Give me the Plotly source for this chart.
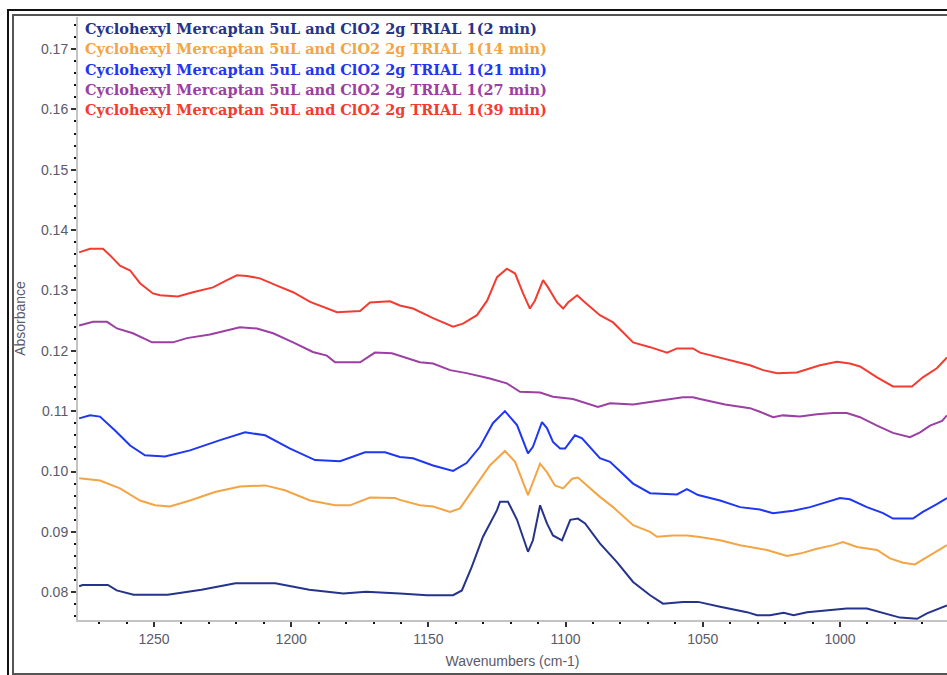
import plotly.graph_objects as go

# ---------------- data ----------------
wn_2min = [1277.3, 1276.0, 1266.8, 1263.6, 1257.4, 1245.0, 1232.7, 1220.3, 1205.8, 1193.4,
           1181.0, 1172.7, 1160.4, 1150.5, 1141.0, 1137.8, 1134.2, 1130.1, 1125.0, 1123.9,
           1121.0, 1117.7, 1113.7, 1111.9, 1109.3, 1106.8, 1104.6, 1101.3, 1098.3, 1095.5,
           1092.9, 1087.5, 1081.3, 1075.4, 1069.2, 1064.5, 1057.2, 1051.7, 1043.7, 1033.9,
           1030.2, 1025.5, 1020.5, 1016.9, 1012.0, 1003.6, 997.5, 990.2, 985.4, 978.1,
           971.9, 968.3, 961.0]
abs_2min = [0.0810, 0.0812, 0.0812, 0.0803, 0.0796, 0.0796, 0.0804, 0.0815, 0.0815, 0.0804,
            0.0798, 0.0801, 0.0798, 0.0795, 0.0795, 0.0803, 0.0842, 0.0892, 0.0936, 0.0950,
            0.0950, 0.0920, 0.0867, 0.0886, 0.0944, 0.0914, 0.0894, 0.0886, 0.0920, 0.0922,
            0.0914, 0.0881, 0.0850, 0.0817, 0.0795, 0.0781, 0.0784, 0.0784, 0.0776, 0.0767,
            0.0762, 0.0762, 0.0766, 0.0762, 0.0767, 0.0770, 0.0773, 0.0773, 0.0767, 0.0758,
            0.0756, 0.0765, 0.0778]

wn_14min = [1277.3, 1269.7, 1262.4, 1255.1, 1249.6, 1244.2, 1236.9, 1227.8, 1218.7, 1209.5,
            1202.3, 1193.1, 1184.0, 1178.6, 1171.3, 1162.2, 1160.4, 1153.1, 1148.3, 1142.1,
            1138.5, 1133.8, 1127.6, 1122.1, 1118.4, 1113.7, 1109.3, 1106.8, 1103.9, 1100.9,
            1097.6, 1095.5, 1092.2, 1087.5, 1082.7, 1075.4, 1069.2, 1066.7, 1060.9, 1055.8,
            1051.7, 1043.7, 1036.4, 1032.8, 1026.6, 1019.3, 1014.6, 1008.4, 1002.5, 998.9,
            993.8, 986.5, 981.8, 977.0, 972.7, 968.3, 963.6, 961.0]
abs_14min = [0.0989, 0.0985, 0.0972, 0.0952, 0.0944, 0.0942, 0.0952, 0.0966, 0.0975, 0.0977,
             0.0969, 0.0952, 0.0944, 0.0944, 0.0957, 0.0956, 0.0953, 0.0944, 0.0942, 0.0933,
             0.0939, 0.0969, 0.1010, 0.1034, 0.1016, 0.0961, 0.1013, 0.0999, 0.0977, 0.0972,
             0.0988, 0.0990, 0.0977, 0.0958, 0.0941, 0.0911, 0.0900, 0.0892, 0.0894, 0.0894,
             0.0892, 0.0886, 0.0878, 0.0875, 0.0870, 0.0860, 0.0864, 0.0872, 0.0878, 0.0883,
             0.0875, 0.0870, 0.0856, 0.0849, 0.0846, 0.0858, 0.0870, 0.0878]

wn_21min = [1277.3, 1273.3, 1269.7, 1264.2, 1258.7, 1253.3, 1246.0, 1236.9, 1225.9, 1216.8,
            1209.5, 1200.4, 1191.3, 1182.2, 1173.1, 1165.8, 1160.4, 1155.6, 1148.3, 1141.0,
            1136.1, 1131.2, 1126.5, 1122.1, 1117.7, 1113.7, 1111.9, 1108.6, 1106.8, 1104.6,
            1102.0, 1100.2, 1096.6, 1094.0, 1087.5, 1083.8, 1075.4, 1069.2, 1059.4, 1055.8,
            1051.7, 1043.7, 1036.4, 1032.8, 1029.2, 1024.4, 1017.1, 1010.9, 1006.2, 1000.0,
            996.4, 990.2, 984.3, 980.7, 973.4, 969.8, 964.7, 961.0]
abs_21min = [0.1088, 0.1093, 0.1091, 0.1068, 0.1043, 0.1027, 0.1025, 0.1035, 0.1052, 0.1065,
             0.1060, 0.1038, 0.1019, 0.1017, 0.1032, 0.1032, 0.1024, 0.1022, 0.1010, 0.1001,
             0.1014, 0.1041, 0.1080, 0.1100, 0.1077, 0.1030, 0.1041, 0.1082, 0.1072, 0.1049,
             0.1038, 0.1038, 0.1060, 0.1055, 0.1022, 0.1016, 0.0980, 0.0964, 0.0962, 0.0971,
             0.0961, 0.0952, 0.0941, 0.0939, 0.0937, 0.0931, 0.0935, 0.0941, 0.0947, 0.0956,
             0.0954, 0.0941, 0.0931, 0.0922, 0.0922, 0.0933, 0.0946, 0.0956]

wn_27min = [1277.3, 1272.2, 1267.1, 1263.5, 1257.7, 1250.7, 1243.1, 1238.0, 1229.6, 1223.4,
            1218.7, 1212.5, 1206.6, 1199.3, 1192.1, 1187.0, 1184.0, 1174.9, 1169.5, 1163.3,
            1160.4, 1153.1, 1148.3, 1142.1, 1136.1, 1127.6, 1121.4, 1116.6, 1109.3, 1104.6,
            1097.3, 1092.2, 1088.2, 1083.8, 1075.4, 1069.2, 1060.9, 1057.2, 1053.6, 1051.0,
            1041.9, 1032.8, 1029.2, 1024.4, 1020.8, 1014.6, 1008.4, 1002.5, 997.5, 992.7,
            986.5, 980.7, 974.5, 970.8, 967.2, 962.8, 961.0]
abs_27min = [0.1242, 0.1248, 0.1248, 0.1237, 0.1229, 0.1214, 0.1214, 0.1221, 0.1227, 0.1234,
             0.1239, 0.1237, 0.1229, 0.1214, 0.1198, 0.1192, 0.1181, 0.1181, 0.1197, 0.1196,
             0.1192, 0.1181, 0.1179, 0.1168, 0.1163, 0.1154, 0.1146, 0.1132, 0.1131, 0.1124,
             0.1120, 0.1113, 0.1107, 0.1113, 0.1111, 0.1115, 0.1121, 0.1123, 0.1123, 0.1120,
             0.1111, 0.1105, 0.1099, 0.1090, 0.1093, 0.1091, 0.1095, 0.1097, 0.1097, 0.1090,
             0.1076, 0.1064, 0.1057, 0.1065, 0.1076, 0.1084, 0.1093]

wn_39min = [1277.3, 1273.3, 1268.6, 1266.0, 1262.4, 1258.7, 1255.1, 1250.4, 1247.8, 1241.3,
            1235.8, 1228.5, 1223.4, 1219.8, 1216.1, 1211.4, 1205.2, 1199.3, 1193.1, 1187.0,
            1183.3, 1174.9, 1171.3, 1164.0, 1160.4, 1155.6, 1148.3, 1141.0, 1137.4, 1132.3,
            1128.6, 1125.0, 1121.4, 1118.4, 1115.5, 1113.0, 1111.2, 1108.2, 1106.4, 1103.1,
            1100.9, 1099.1, 1095.8, 1092.9, 1087.5, 1082.7, 1075.4, 1069.2, 1063.0, 1059.4,
            1053.6, 1051.0, 1041.9, 1032.8, 1028.0, 1022.9, 1015.7, 1010.9, 1007.3, 1001.1,
            996.4, 992.7, 986.5, 980.7, 973.8, 969.8, 964.7, 961.0]
abs_39min = [0.1363, 0.1369, 0.1369, 0.1358, 0.1341, 0.1333, 0.1312, 0.1295, 0.1292, 0.1290,
             0.1297, 0.1305, 0.1317, 0.1325, 0.1324, 0.1320, 0.1308, 0.1297, 0.1281, 0.1270,
             0.1264, 0.1266, 0.1280, 0.1282, 0.1275, 0.1270, 0.1254, 0.1240, 0.1245, 0.1259,
             0.1283, 0.1322, 0.1336, 0.1328, 0.1295, 0.1270, 0.1283, 0.1317, 0.1305, 0.1280,
             0.1270, 0.1280, 0.1292, 0.1280, 0.1259, 0.1247, 0.1214, 0.1206, 0.1197, 0.1204,
             0.1204, 0.1197, 0.1187, 0.1176, 0.1168, 0.1163, 0.1164, 0.1171, 0.1176, 0.1182,
             0.1179, 0.1174, 0.1156, 0.1141, 0.1141, 0.1156, 0.1171, 0.1189]

series_names = [
    "Cyclohexyl Mercaptan 5uL and ClO2 2g TRIAL 1(2 min)",
    "Cyclohexyl Mercaptan 5uL and ClO2 2g TRIAL 1(14 min)",
    "Cyclohexyl Mercaptan 5uL and ClO2 2g TRIAL 1(21 min)",
    "Cyclohexyl Mercaptan 5uL and ClO2 2g TRIAL 1(27 min)",
    "Cyclohexyl Mercaptan 5uL and ClO2 2g TRIAL 1(39 min)",
]
series_colors = ["#26338c", "#f5a443", "#1f37f2", "#9b3fa3", "#f23c32"]
x_data = [wn_2min, wn_14min, wn_21min, wn_27min, wn_39min]
y_data = [abs_2min, abs_14min, abs_21min, abs_27min, abs_39min]

x_range = [1277.7, 961.0]
y_range = [0.0754, 0.1753]

# ---------------- figure ----------------
fig = go.Figure()
for name, color, xs, ys in zip(series_names, series_colors, x_data, y_data):
    fig.add_trace(go.Scatter(x=xs, y=ys, mode="lines", name=name,
                             line=dict(color=color, width=2), showlegend=False))

W, H = 947, 675
ml, mr, mt, mb = 78, 0, 17, 55
pw, ph = W - ml - mr, H - mt - mb


def px_x(p):  # window pixel -> paper x
    return (p - ml) / pw


def px_y(p):  # window pixel -> paper y
    return 1 - (p - mt) / ph


tick_font = dict(family="Liberation Sans, Arial, sans-serif", size=14, color="#5a5a6a")
title_font = dict(family="Liberation Sans, Arial, sans-serif", size=14, color="#5a5a6a")

fig.update_layout(
    width=W, height=H,
    margin=dict(l=ml, r=mr, t=mt, b=mb, autoexpand=False),
    paper_bgcolor="white", plot_bgcolor="white",
    showlegend=False,
    xaxis=dict(
        range=x_range, autorange=False,
        tick0=1000, dtick=50, tickformat="d",
        ticks="outside", ticklen=5, tickwidth=2, tickcolor="#333333",
        showline=True, linecolor="#c4c4c4", linewidth=2,
        showgrid=False, zeroline=False,
        tickfont=tick_font,
        minor=dict(dtick=10, ticks="outside", ticklen=2, tickwidth=2,
                   tickcolor="#111111", showgrid=False),
        title=dict(text="Wavenumbers (cm-1)", font=title_font, standoff=10),
    ),
    yaxis=dict(
        range=y_range, autorange=False,
        tick0=0.08, dtick=0.01, tickformat=".2f",
        ticks="outside", ticklen=5, tickwidth=2, tickcolor="#333333",
        showline=True, linecolor="#c4c4c4", linewidth=2,
        showgrid=False, zeroline=False,
        tickfont=tick_font,
        minor=dict(dtick=0.002, ticks="outside", ticklen=2, tickwidth=2,
                   tickcolor="#111111", showgrid=False),
        title=dict(text="Absorbance", font=title_font, standoff=12),
    ),
)

# text-only legend (coloured serif lines, top-left)
legend_y_px = [28.7, 49.0, 69.3, 89.7, 110.0]
for name, color, ypx in zip(series_names, series_colors, legend_y_px):
    fig.add_annotation(
        text="<b>" + name + "</b>", x=px_x(83), y=px_y(ypx),
        xref="paper", yref="paper", xanchor="left", yanchor="middle",
        showarrow=False,
        font=dict(family="DejaVu Serif, Georgia, serif", size=14.5, color=color),
    )

# double frame around the whole picture
fig.add_shape(type="rect", xref="paper", yref="paper",
              x0=px_x(8), x1=px_x(960), y0=px_y(690), y1=px_y(10),
              line=dict(color="#111111", width=2), fillcolor="rgba(0,0,0,0)", layer="above")
fig.add_shape(type="rect", xref="paper", yref="paper",
              x0=px_x(13), x1=px_x(960), y0=px_y(674), y1=px_y(15),
              line=dict(color="#555555", width=2), fillcolor="rgba(0,0,0,0)", layer="above")

# place the figure at the very top-left of the page (no default body margin)
page_fix = "document.body.style.margin='0';document.body.style.overflow='hidden';"

fig.write_html("out.html", post_script=page_fix, config={"displayModeBar": False})
